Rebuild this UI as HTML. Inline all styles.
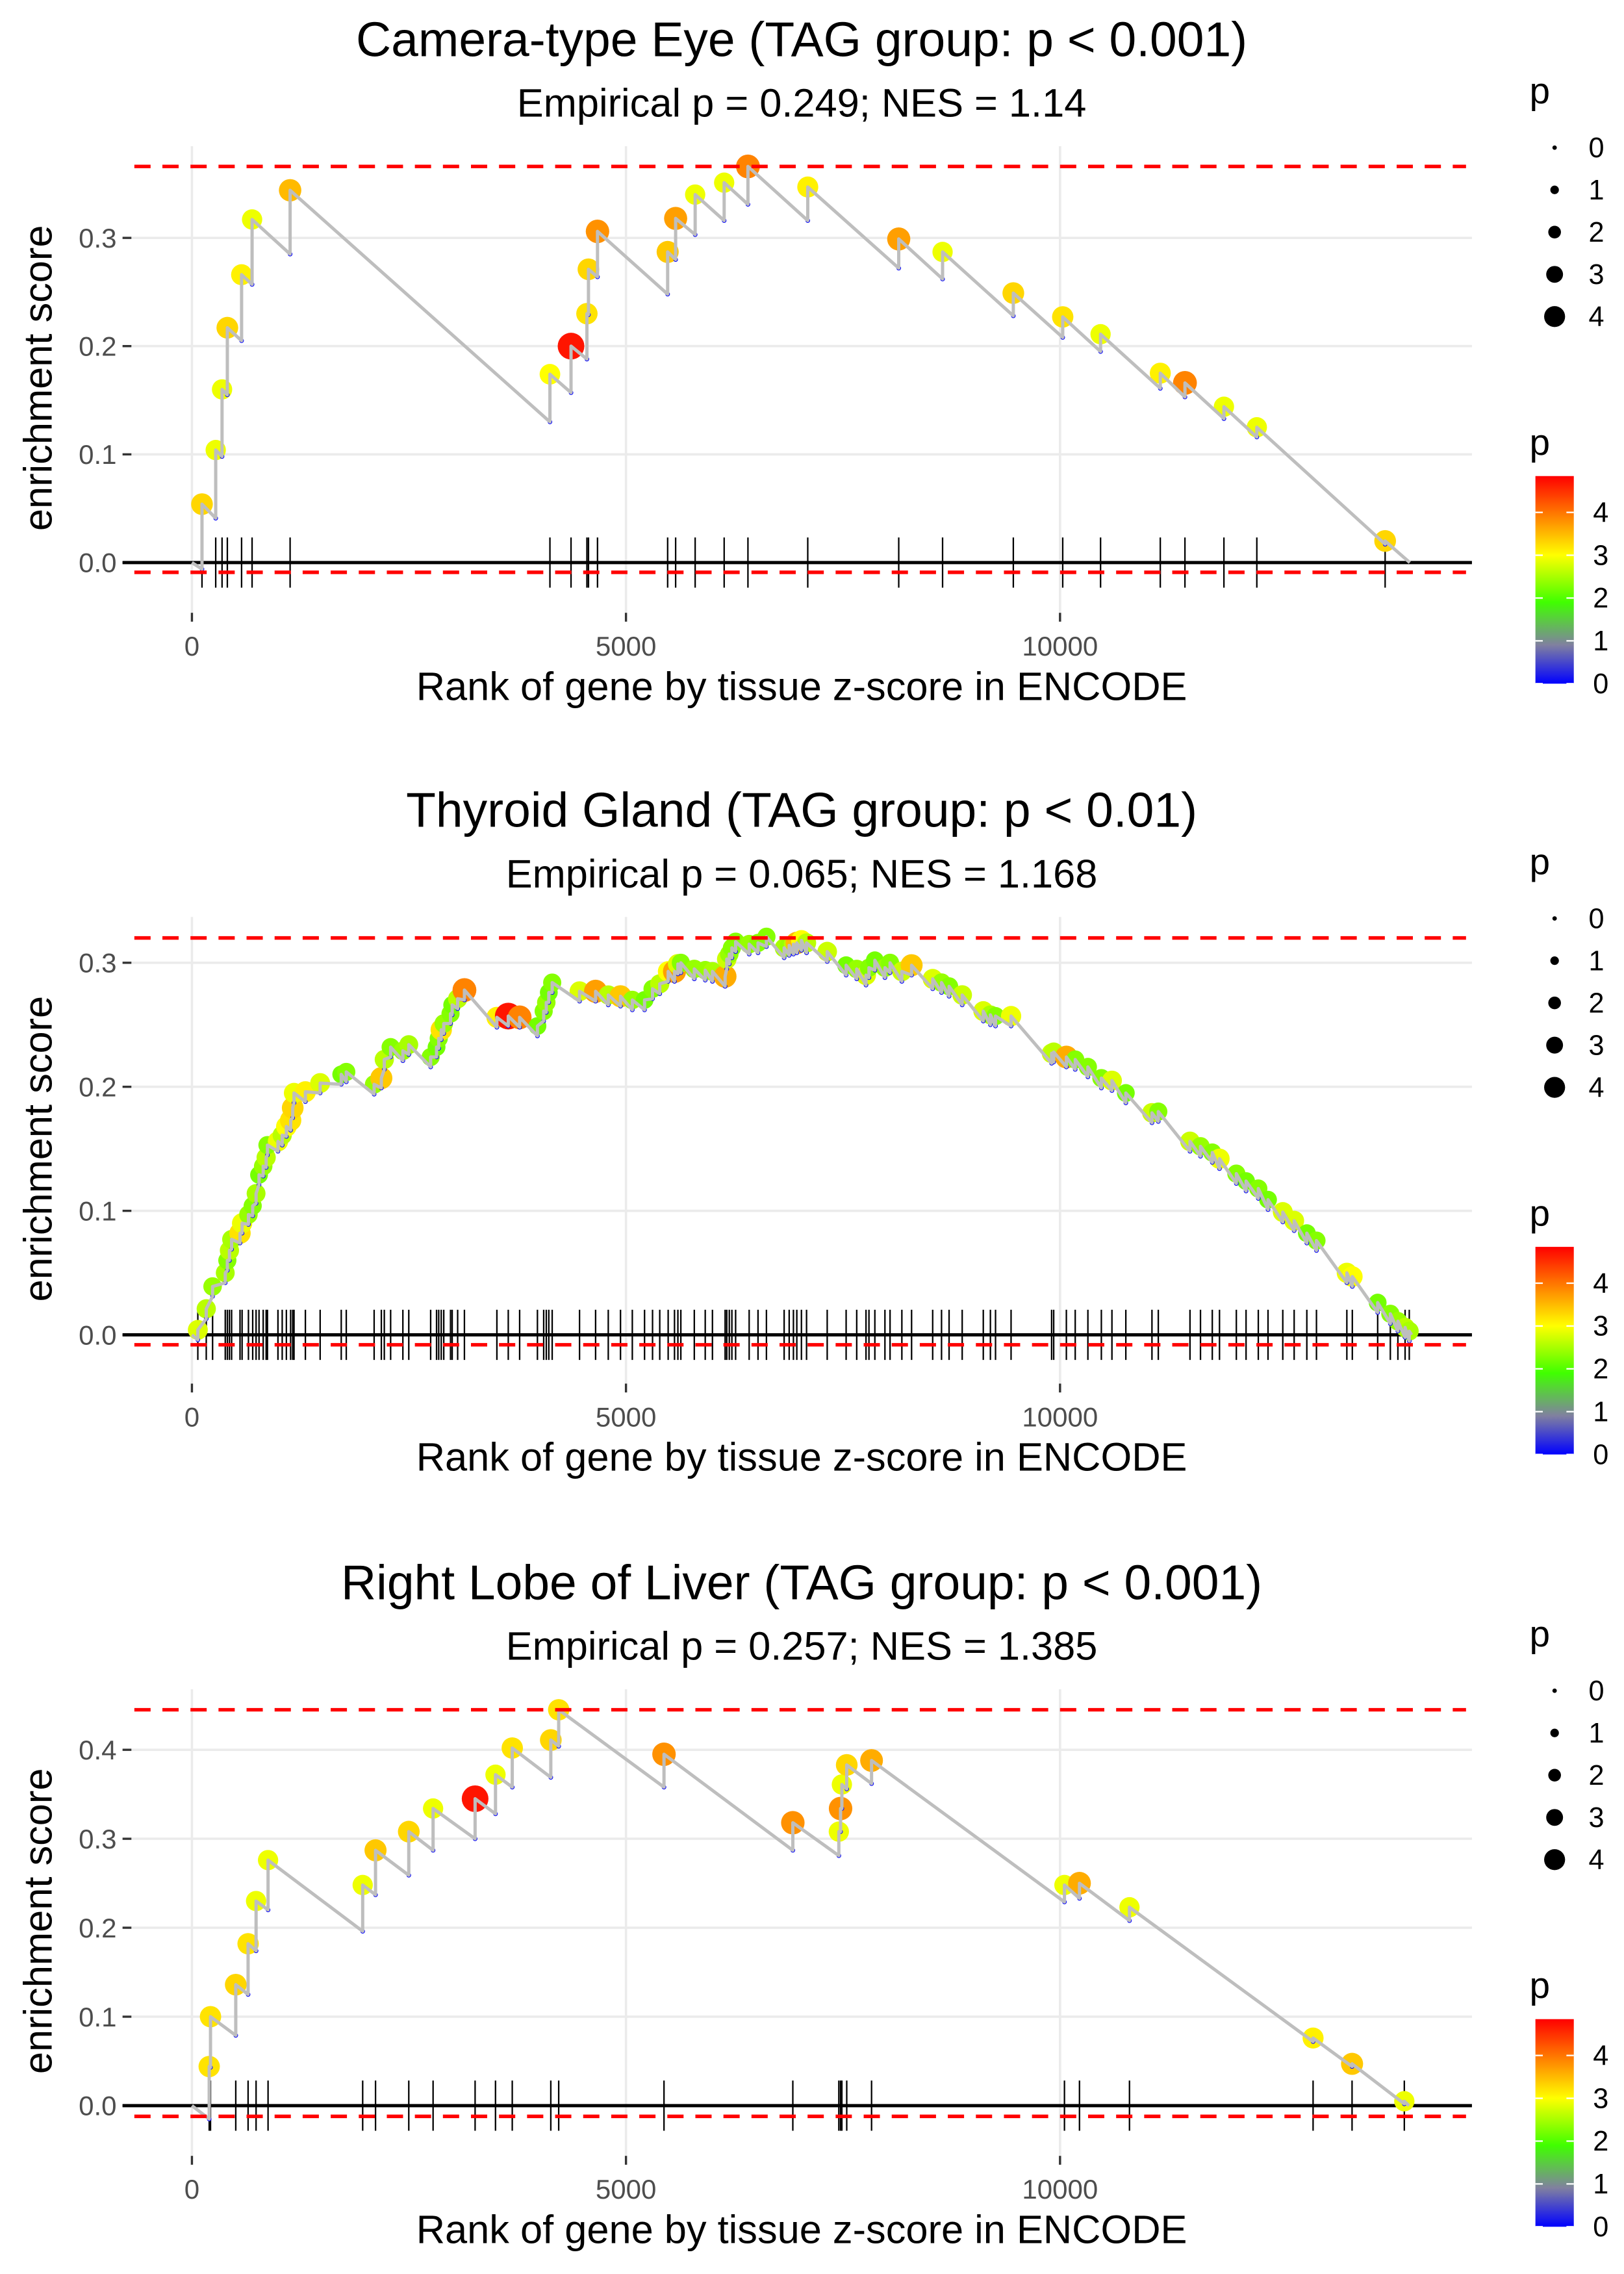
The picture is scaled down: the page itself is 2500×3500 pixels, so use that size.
<!DOCTYPE html>
<html><head><meta charset="utf-8"><style>
html,body{margin:0;padding:0;background:#fff;}
svg{display:block;font-family:"Liberation Sans",Arial,sans-serif;}
</style></head><body>
<svg id="chart" xmlns="http://www.w3.org/2000/svg" width="2500" height="3500" viewBox="0 0 1100 1540" preserveAspectRatio="none">
<defs>
<linearGradient id="pgrad" x1="0" y1="1" x2="0" y2="0">
<stop offset="0" stop-color="#0000ff"/>
<stop offset="0.186" stop-color="#8080a0"/>
<stop offset="0.392" stop-color="#40ff00"/>
<stop offset="0.619" stop-color="#ffff00"/>
<stop offset="1" stop-color="#ff0000"/>
</linearGradient>
</defs>
</svg>
<script>
// ---------- Panel 1: Camera-type Eye ----------
const ranks1=[116,274,347,408,572,693,1131,4124,4367,4550,4568,4672,5480,5572,5797,6131,6405,7094,8142,8647,9462,10031,10467,11155,11439,11888,12267,13745];
const top1=[0.054,0.104,0.160,0.217,0.266,0.317,0.344,0.174,0.200,0.230,0.271,0.306,0.287,0.318,0.340,0.351,0.366,0.347,0.299,0.287,0.249,0.227,0.211,0.175,0.166,0.144,0.125,0.020];
const bot1=[-0.006,0.041,0.098,0.155,0.205,0.257,0.285,0.130,0.157,0.188,0.229,0.264,0.248,0.280,0.303,0.316,0.331,0.316,0.272,0.262,0.228,0.208,0.195,0.161,0.153,0.133,0.116,0.017];
const p1=[3.3,2.9,2.9,3.3,3.1,2.9,3.5,3.0,4.7,3.2,3.3,3.8,3.4,3.7,2.9,2.9,3.9,3.1,3.7,2.9,3.3,3.2,2.9,3.1,3.9,2.9,2.9,3.3];
const end1=14029;
const esMax1=0.366, esMin1=-0.009;

// ---------- Panel 2: Thyroid Gland ----------
const ranks2=[68,165,238,384,408,432,457,554,578,651,700,739,773,821,855,870,991,1040,1088,1137,1161,1176,1307,1477,1720,1778,2099,2182,2216,2289,2430,2498,2750,2818,2843,2872,2901,2979,2998,3061,3139,3513,3644,3775,3980,4052,4082,4111,4150,4465,4650,4796,4937,5073,5214,5306,5389,5486,5559,5598,5632,5787,5913,5996,6142,6161,6190,6220,6263,6419,6521,6618,6822,6880,6929,6968,7021,7080,7318,7536,7658,7765,7799,7867,7983,8042,8178,8290,8533,8635,8722,8873,9116,9198,9257,9436,9903,9927,10073,10175,10321,10476,10598,10758,11059,11132,11497,11618,11754,11837,12031,12143,12284,12396,12566,12697,12843,12954,13304,13367,13659,13805,13892,13975,14023];
const top2=[0.004,0.021,0.039,0.050,0.060,0.068,0.077,0.082,0.090,0.097,0.104,0.114,0.129,0.136,0.143,0.153,0.156,0.161,0.168,0.173,0.183,0.195,0.196,0.203,0.210,0.212,0.202,0.207,0.222,0.232,0.229,0.234,0.224,0.232,0.239,0.246,0.251,0.259,0.266,0.271,0.278,0.256,0.257,0.256,0.249,0.261,0.268,0.276,0.284,0.277,0.277,0.274,0.273,0.270,0.270,0.279,0.283,0.293,0.293,0.299,0.300,0.295,0.294,0.293,0.289,0.303,0.307,0.312,0.317,0.315,0.316,0.321,0.312,0.314,0.315,0.316,0.318,0.316,0.309,0.298,0.295,0.290,0.296,0.302,0.296,0.300,0.293,0.298,0.287,0.284,0.281,0.274,0.261,0.258,0.257,0.257,0.227,0.228,0.224,0.222,0.216,0.207,0.205,0.195,0.179,0.180,0.156,0.152,0.147,0.142,0.130,0.124,0.118,0.109,0.099,0.092,0.082,0.076,0.050,0.047,0.026,0.017,0.011,0.006,0.003];
const p2=[2.8,2.6,2.4,2.5,2.3,2.6,2.5,3.2,2.9,2.4, 2.3,2.5,2.2,2.4,2.6,2.3,2.9,2.6,3.0,3.2, 3.3,2.9,3.1,2.8,2.2,2.3,2.4,3.4,2.6,2.3, 2.4,2.5,2.3,2.2,2.3,3.2,2.4,2.3,2.2,2.6, 3.9,3.1,4.7,3.9,2.2,2.3,2.4,2.2,2.3,2.8, 3.7,2.6,3.4,2.4,2.2,2.3,2.6,3.0,3.7,2.8, 2.3,2.4,2.4,2.5,3.6,2.7,2.4,2.3,2.3,2.4, 2.3,2.3,2.5,2.4,2.6,3.5,3.0,2.6,2.7,2.2, 2.4,2.8,2.3,2.2,2.4,2.3,2.7,3.4,2.8,2.4, 2.3,2.7,2.8,2.5,2.3,2.9,2.7,2.6,3.6,2.3, 2.3,2.3,2.8,2.2,2.7,2.3,2.7,2.4,2.3,2.9, 2.3,2.2,2.3,2.2,2.8,2.8,2.2,2.3,2.9,3.0, 2.2,2.3,2.4,2.6,2.5];
const jump2=0.008;
const end2=14050;
const esMax2=0.320, esMin2=-0.008;

// ---------- Panel 3: Right Lobe of Liver ----------
const ranks3=[199,214,505,647,739,877,1967,2115,2498,2778,3262,3497,3690,4134,4225,5438,6922,7452,7472,7487,7543,7829,10051,10224,10800,12915,13364,13966];
const top3=[0.044,0.100,0.136,0.182,0.230,0.276,0.248,0.287,0.308,0.334,0.345,0.372,0.402,0.411,0.445,0.395,0.318,0.308,0.334,0.361,0.383,0.388,0.248,0.250,0.223,0.076,0.047,0.005];
const bot3=[-0.015,0.043,0.079,0.125,0.174,0.220,0.196,0.237,0.259,0.287,0.300,0.328,0.358,0.369,0.404,0.358,0.287,0.281,0.308,0.334,0.356,0.362,0.229,0.233,0.208,0.072,0.044,0.002];
const p3=[3.2,3.2,3.3,3.2,2.9,2.9,2.9,3.4,3.3,2.9,4.7,2.9,3.2,3.3,3.2,3.8,3.8,2.9,3.8,2.9,3.3,3.6,2.9,3.6,2.9,3.1,3.4,2.9];
const end3=14020;
const esMax3=0.445, esMin3=-0.012;

const xTickVals=[0,5000,10000];
const xTickLabels=["0","5000","10000"];
const sizeLegendVals=[0,1,2,3,4];
const colorLegendVals=[0,1,2,3,4];

const NS="http://www.w3.org/2000/svg";
const svg=document.getElementById('chart');
function mk(tag,attrs,parent){const e=document.createElementNS(NS,tag);for(const k in attrs)e.setAttribute(k,attrs[k]);(parent||svg).appendChild(e);return e;}

const colStops=[[0,[0,0,255]],[0.9,[128,128,160]],[1.9,[64,255,0]],[3.0,[255,255,0]],[4.85,[255,0,0]]];
function pColor(p){
  if(p<=colStops[0][0])return 'rgb(0,0,255)';
  for(let i=1;i<colStops.length;i++){
    if(p<=colStops[i][0]){const a=colStops[i-1],b=colStops[i];const t=(p-a[0])/(b[0]-a[0]);
      const c=a[1].map((v,j)=>Math.round(v+(b[1][j]-v)*t));return 'rgb('+c.join(',')+')';}
  }
  return 'rgb(255,0,0)';
}
function pRadius(p){return 3.4+1.2*p;}
function legendRadius(p){return 1.5+1.4*p;}
function xS(r){return 130+r*0.0588;}

function drawPanel(o){
  const off=o.off;
  const g=mk('g',{});
  
  
  const yS=v=>o.y0-v*o.k;
  const L=89,R=997,T=99+off,B=415+off;
  let t=mk('text',{x:543,y:38+off,'text-anchor':'middle','font-size':33,fill:'#000'},g);t.textContent=o.title;
  
  t=mk('text',{x:543,y:79+off,'text-anchor':'middle','font-size':27,fill:'#000'},g);t.textContent=o.sub;
  
  const grid=mk('g',{},g);
  o.yt.forEach(v=>{
    mk('line',{x1:L,x2:R,y1:yS(v),y2:yS(v),stroke:'#ebebeb','stroke-width':1.6},grid);
    mk('line',{x1:83,x2:89,y1:yS(v),y2:yS(v),stroke:'#333','stroke-width':1.5},g);
    const lb=mk('text',{x:79,y:yS(v)+6.5,'text-anchor':'end','font-size':18.5,fill:'#4d4d4d'},g);lb.textContent=v.toFixed(1);
    
  });
  xTickVals.forEach((v,i)=>{
    mk('line',{x1:xS(v),x2:xS(v),y1:T,y2:B,stroke:'#ebebeb','stroke-width':1.6},grid);
    mk('line',{x1:xS(v),x2:xS(v),y1:B,y2:B+6,stroke:'#333','stroke-width':1.5},g);
    const lb=mk('text',{x:xS(v),y:444+off,'text-anchor':'middle','font-size':18.5,fill:'#4d4d4d'},g);lb.textContent=xTickLabels[i];
    
  });
  t=mk('text',{x:543,y:474+off,'text-anchor':'middle','font-size':27,fill:'#000'},g);t.textContent='Rank of gene by tissue z-score in ENCODE';
  
  t=mk('text',{x:0,y:0,'text-anchor':'middle','font-size':27,fill:'#000',transform:'translate(35,'+(256+off)+') rotate(-90)'},g);t.textContent='enrichment score';
  
  const z=mk('line',{x1:83,x2:R,y1:yS(0),y2:yS(0),stroke:'#000','stroke-width':2.2},g);
  
  const rug=mk('g',{},g);
  o.ranks.forEach(r=>{const l=mk('line',{x1:xS(r),x2:xS(r),y1:yS(0)-17,y2:yS(0)+17,stroke:'#000','stroke-width':1},rug);
    });
  const pts=mk('g',{},g);
  const n=Math.min(o.ranks.length,o.tops.length,o.ps.length);
  for(let i=0;i<n;i++){
    const c=mk('circle',{cx:xS(o.ranks[i]),cy:yS(o.tops[i]),r:pRadius(o.ps[i]),fill:pColor(o.ps[i])},pts);
    
  }
  let d='M'+xS(0)+' '+yS(0);
  for(let i=0;i<n;i++){d+=' L'+xS(o.ranks[i])+' '+yS(o.bots[i])+' L'+xS(o.ranks[i])+' '+yS(o.tops[i]);}
  d+=' L'+xS(o.end)+' '+yS(0);
  const ln=mk('path',{d:d,fill:'none',stroke:'#bebebe','stroke-width':2.2,'stroke-linejoin':'round'},g);
  
  for(let i=0;i<n;i++){
    const c=mk('circle',{cx:xS(o.ranks[i]),cy:yS(o.bots[i]),r:1.3,fill:'#8888ff',stroke:'#0000ff','stroke-width':0.5},pts);
    
  }
  [o.max,o.min].forEach((v,i)=>{const l=mk('line',{x1:L+2,x2:R-4,y1:yS(v),y2:yS(v),stroke:'#ff0000','stroke-width':2.4,'stroke-dasharray':'11 8'},g);
    });
  const lg=mk('g',{},g);
  t=mk('text',{x:1036,y:70+off,'font-size':25,fill:'#000'},lg);t.textContent='p';
  sizeLegendVals.forEach((v,i)=>{const y=100+off+i*28.6;
    const c=mk('circle',{cx:1053,cy:y,r:legendRadius(v),fill:'#000'},lg);
    
    const tt=mk('text',{x:1076,y:y+6.5,'font-size':19,fill:'#000'},lg);tt.textContent=String(v);});
  const cg=mk('g',{},g);
  t=mk('text',{x:1036,y:308+off,'font-size':25,fill:'#000'},cg);t.textContent='p';
  const bar=mk('rect',{x:1040,y:322.4+off,width:26,height:140.6,fill:'url(#pgrad)'},cg);
  
  colorLegendVals.forEach(v=>{const y=463+off-v*29;
    mk('line',{x1:1040,x2:1045,y1:y,y2:y,stroke:'#fff','stroke-width':1},cg);
    mk('line',{x1:1061,x2:1066,y1:y,y2:y,stroke:'#fff','stroke-width':1},cg);
    const tt=mk('text',{x:1079,y:y+6.5,'font-size':19,fill:'#000'},cg);tt.textContent=String(v);});
}

const bots2=top2.map(v=>v-jump2);
drawPanel({key:'camera-type-eye',off:0,y0:381,k:733,yt:[0,0.1,0.2,0.3],title:'Camera-type Eye (TAG group: p < 0.001)',sub:'Empirical p = 0.249; NES = 1.14',ranks:ranks1,tops:top1,bots:bot1,ps:p1,end:end1,max:esMax1,min:esMin1});
drawPanel({key:'thyroid-gland',off:522,y0:904,k:840,yt:[0,0.1,0.2,0.3],title:'Thyroid Gland (TAG group: p < 0.01)',sub:'Empirical p = 0.065; NES = 1.168',ranks:ranks2,tops:top2,bots:bots2,ps:p2,end:end2,max:esMax2,min:esMin2});
drawPanel({key:'right-lobe-of-liver',off:1045,y0:1426,k:602.5,yt:[0,0.1,0.2,0.3,0.4],title:'Right Lobe of Liver (TAG group: p < 0.001)',sub:'Empirical p = 0.257; NES = 1.385',ranks:ranks3,tops:top3,bots:bot3,ps:p3,end:end3,max:esMax3,min:esMin3});
</script>
</body></html>
